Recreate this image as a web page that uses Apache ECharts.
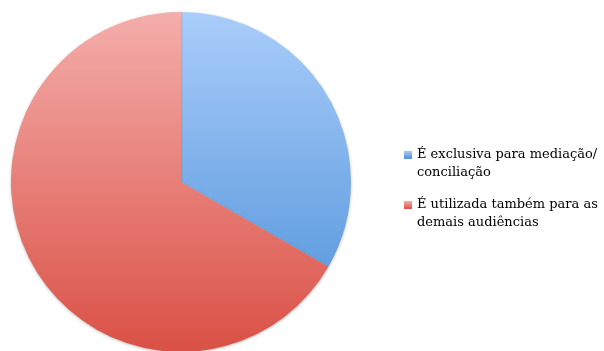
<!DOCTYPE html>
<html>
<head>
<meta charset="utf-8">
<script src="https://cdn.jsdelivr.net/npm/echarts@6/dist/echarts.min.js"></script>
<style>
  html, body { margin: 0; padding: 0; background: #fff; }
  #chart { width: 604px; height: 351px; }
</style>
</head>
<body>
<div id="chart"></div>
<script>
// categorias e valores (%)
var categorias = ['É exclusiva para mediação/\nconciliação', 'É utilizada também para as\ndemais audiências'];
var valores = [33.3, 66.7];
// cores: topo / base do degradê
var coresTopo = ['#aacdfa', '#f4aeab'];
var coresBase = ['#4a8fd8', '#da5045'];

var myChart = echarts.init(document.getElementById('chart'));

function degrade(i, global) {
    if (global) {
        return new echarts.graphic.LinearGradient(0, 11, 0, 353, [
            { offset: 0, color: coresTopo[i] },
            { offset: 1, color: coresBase[i] }
        ], true);
    }
    // ícone da legenda: só o quadrado de cima (8 de 26 px)
    return new echarts.graphic.LinearGradient(0, 0, 0, 0.31, [
        { offset: 0, color: coresTopo[i] },
        { offset: 1, color: coresBase[i] }
    ]);
}

var dados = [];
for (var i = 0; i < valores.length; i++) {
    dados.push({
        name: categorias[i],
        value: valores[i],
        itemStyle: { color: degrade(i, true) }
    });
}

var option = {
    animation: false,
    legend: {
        orient: 'vertical',
        left: 399,
        top: 141,
        // quadrado no topo de uma caixa alta -> alinhado com a 1ª linha
        icon: 'path://M0,0L8,0L8,8L0,8Z M0,26L0.01,26L0,26Z',
        itemWidth: 8,
        itemHeight: 26,
        itemGap: 14,
        data: categorias.map(function (c, i) {
            return { name: c, itemStyle: { color: degrade(i, false) } };
        }),
        textStyle: {
            fontFamily: 'DejaVu Serif',
            fontSize: 13,
            lineHeight: 18,
            color: '#000'
        },
        selectedMode: false
    },
    series: [
        {
            type: 'pie',
            center: [181, 182],
            radius: 170,
            startAngle: 90,
            clockwise: true,
            label: { show: false },
            labelLine: { show: false },
            silent: true,
            itemStyle: {
                shadowBlur: 3,
                shadowOffsetY: 1,
                shadowColor: 'rgba(0,0,0,0.25)'
            },
            data: dados
        }
    ]
};
myChart.setOption(option);
</script>
</body>
</html>
